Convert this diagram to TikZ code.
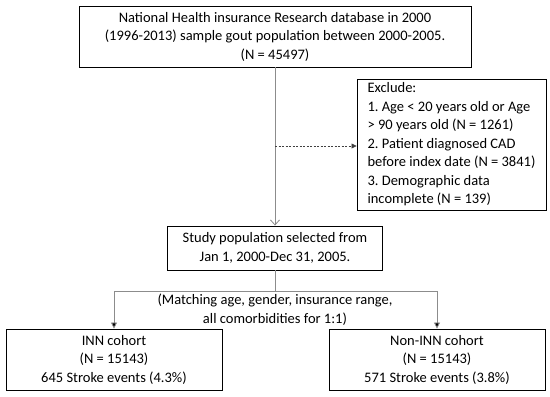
\documentclass[tikz,border=0pt]{standalone}
\usepackage{fontspec}
\setmainfont{Carlito}
\usetikzlibrary{arrows.meta}

\begin{document}
\frenchspacing
\begin{tikzpicture}[
  x=1pt, y=-1pt, >=Stealth, font=\fontsize{14.5}{18.5}\selectfont,
  box/.style={draw, line width=0.9pt, align=center, inner sep=0pt},
  link/.style={draw=black!45, line width=0.8pt},
  tip/.style={-{Triangle[length=6pt,width=6pt,fill=black]}}]
\useasboundingbox (0,0) rectangle (550,397);
% top: source population and exclusions
\node[box, minimum width=392, minimum height=61] (db) at (275,36.5) {National Health insurance Research database in 2000\\(1996-2013) sample gout population between 2000-2005.\\(N = 45497)};
\node[box, align=left, minimum width=189, minimum height=131] (excl) at (451.5,144.5) {Exclude:\\1. Age < 20 years old or Age\\> 90 years old (N = 1261)\\2. Patient diagnosed CAD\\before index date (N = 3841)\\3. Demographic data\\incomplete (N = 139)};
\node[box, minimum width=215, minimum height=44] (study) at (275,248) {Study population selected from\\Jan 1, 2000-Dec 31, 2005.};
% bottom: matched cohorts
\node[box, minimum width=216, minimum height=61] (inn) at (114,359.5) {INN cohort\\(N = 15143)\\645 Stroke events (4.3\%)};
\node[box, minimum width=216, minimum height=61] (non) at (437,359.5) {Non-INN cohort\\(N = 15143)\\571 Stroke events (3.8\%)};
\coordinate (cut) at (275,146);
\coordinate (fork) at (275,291);
\draw[link, -{Straight Barb[length=5pt,width=9pt]}] (db) -- (study);
\draw[draw=black!75, line width=0.7pt, dash pattern=on 2pt off 1.5pt, -{Triangle[length=5pt,width=5pt]}] (cut) -- (cut -| excl.west);
\draw[link] (study) -- (fork);
\draw[link, tip] (fork) -| (inn.north);
\draw[link, tip] (fork) -| (non.north);
\node[anchor=north, align=center, inner sep=2pt] (match) at (275,292) {(Matching age, gender, insurance range,\\all comorbidities for 1:1)};
\end{tikzpicture}
\end{document}
